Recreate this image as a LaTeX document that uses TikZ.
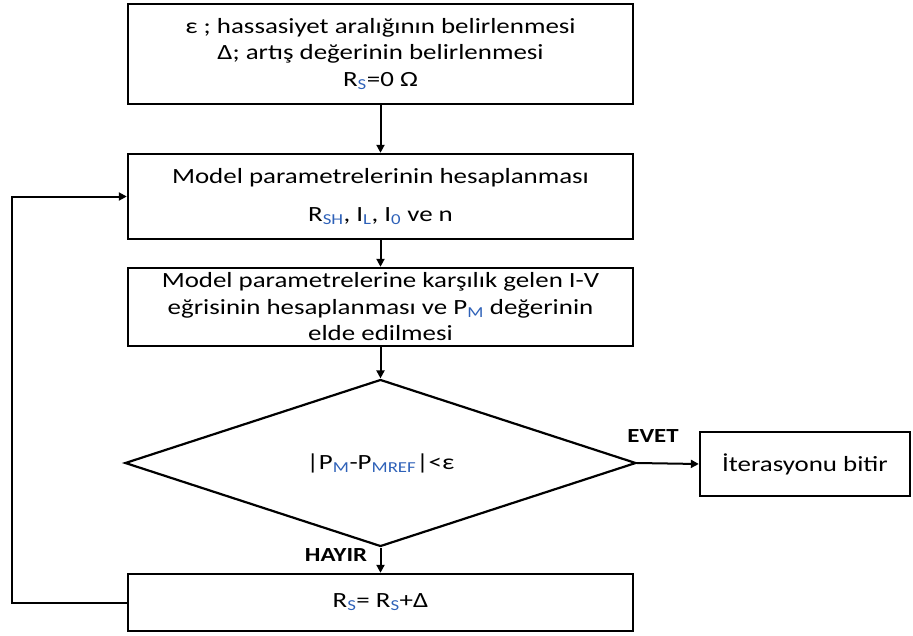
\documentclass[tikz,border=0pt]{standalone}
\usepackage{fontspec}
\setmainfont{Carlito}[FakeStretch=1.24]
\usetikzlibrary{shapes.geometric,arrows.meta}
\definecolor{subblue}{rgb}{0.18,0.38,0.72}
\newcommand{\sbs}[1]{\textsubscript{\color{subblue}#1}}
\tikzset{
  box/.style={draw=black, line width=2.4pt, rectangle, align=center, inner sep=0pt,
    font=\fontsize{21.7}{26.5}\selectfont},
  dec/.style={draw=black, line width=2.2pt, diamond, align=center, inner sep=0pt,
    font=\fontsize{21.7}{26.5}\selectfont},
  conn/.style={draw=black, line width=2pt, -{Triangle[length=8pt,width=8pt]}},
  lbl/.style={font=\fontsize{20}{24}\selectfont\bfseries, inner sep=0pt}
}
\begin{document}
\begin{tikzpicture}[x=1pt,y=-1pt]
\useasboundingbox (0,0) rectangle (913,635);
\node[box, minimum width=505, minimum height=100] (b1) at (380.5,54)
  {ε ; hassasiyet aralığının belirlenmesi\\ Δ; artış değerinin belirlenmesi\\ R\sbs{S}=0 Ω};
\node[box, minimum width=505, minimum height=85] (b2) at (380.5,196.5)
  {Model parametrelerinin hesaplanması\\[11pt] R\sbs{SH}, I\sbs{L}, I\sbs{0} ve n};
\node[box, minimum width=505, minimum height=78] (b3) at (380.5,307)
  {Model parametrelerine karşılık gelen I-V\\ eğrisinin hesaplanması ve P\sbs{M} değerinin\\ elde edilmesi};
\node[dec, minimum width=511, minimum height=148] (d) at (380.5,463)
  {|P\sbs{M}-P\sbs{MREF}|<ε};
\node[box, minimum width=210, minimum height=64] (b4) at (805,464) {İterasyonu bitir};
\node[box, minimum width=505, minimum height=57] (b5) at (380.5,602.5) {R\sbs{S}= R\sbs{S}+Δ};
\coordinate (lpx) at (12,0);
\draw[conn] (b1.south) -- (b2.north);
\draw[conn] (b2.south) -- (b3.north);
\draw[conn] (b3.south) -- (d.north);
\draw[conn] (d.south) -- (b5.north);
\draw[conn] (d.east) -- (b4.west);
\draw[conn] (b5.west) -- (b5.west -| lpx) |- (b2.west);
\node[lbl] (evet) at (653,436) {EVET};
\node[lbl] (hayir) at (336,555) {HAYIR};
\end{tikzpicture}
\end{document}
